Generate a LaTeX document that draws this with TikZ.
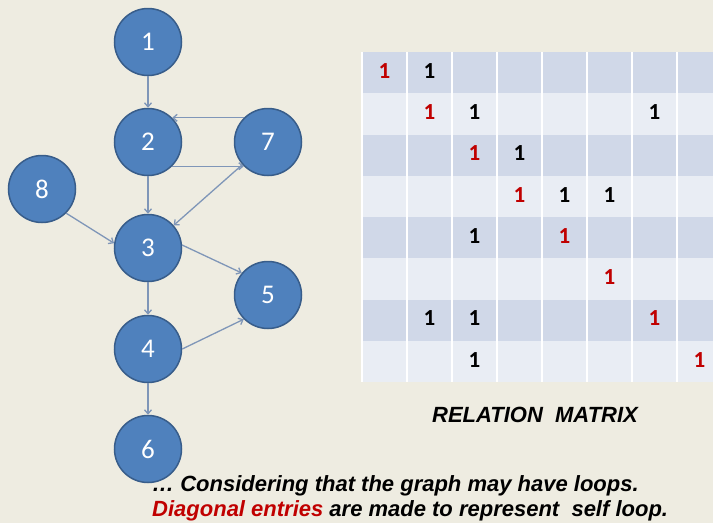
\documentclass[tikz,border=0pt]{standalone}
\usepackage{xcolor}
\usepackage{fontspec}
\usepackage{tikz}
\usetikzlibrary{arrows.meta, positioning, calc}
\newfontfamily\calibrifont{Carlito}
\newfontfamily\arialfont{Liberation Sans}
\definecolor{bgtan}{HTML}{EEECE1}
\definecolor{nodeblue}{HTML}{4F81BD}
\definecolor{nodeline}{HTML}{385D8A}
\definecolor{linkc}{HTML}{7F96B8}
\definecolor{rowdark}{HTML}{D0D8E8}
\definecolor{rowlight}{HTML}{E9EDF4}
\definecolor{diagred}{HTML}{C00000}
\tikzset{
  vertex/.style={circle, draw=nodeline, line width=1.5pt, fill=nodeblue,
                 minimum size=67pt, inner sep=0pt, text=white,
                 font=\calibrifont\fontsize{27}{27}\selectfont},
  link/.style={-{Straight Barb[length=4pt, width=7pt]}, draw=linkc, line width=1.3pt},
  one/.style={inner sep=0pt, font=\calibrifont\bfseries\fontsize{23}{23}\selectfont},
  diag/.style={one, text=diagred},
  caption/.style={inner sep=0pt, font=\arialfont\bfseries\itshape\fontsize{#1}{#1}\selectfont},
  caption/.default=22,
}

\begin{document}
\begin{tikzpicture}[x=1pt, y=-1pt]

% ── 背景 ──────────────────────────────────────────────────────────────
\useasboundingbox (0,0) rectangle (713,523);
\fill[bgtan] (0,0) rectangle (713,523);

% ── 左侧：有向图 ──────────────────────────────────────────────────────
\node[vertex] (n1) at (148,42)  {1};
\node[vertex] (n2) at (148,142) {2};
\node[vertex] (n7) at (268,142) {7};
\node[vertex] (n8) at (42,189)  {8};
\node[vertex] (n3) at (148,248) {3};
\node[vertex] (n5) at (268,295) {5};
\node[vertex] (n4) at (148,349) {4};
\node[vertex] (n6) at (148,449) {6};

\draw[link] (n1) -- (n2);
\draw[link] (n7.135) -- (n2.45);
\draw[link] (n2.-45) -- (n7.-135);
\draw[link] (n2) -- (n3);
\draw[link] (n7) -- (n3);
\draw[link] (n8.-45) -- (n3.172);
\draw[link] (n3.5) -- (n5.140);
\draw[link] (n3) -- (n4);
\draw[link] (n4.east) -- (n5.-135);
\draw[link] (n4) -- (n6);

% ── 右侧：关系矩阵 ────────────────────────────────────────────────────
\fill[rowlight] (362,52) rectangle (713,382);
\fill[rowdark] (362,52)     rectangle (713,93.25);
\fill[rowdark] (362,134.5)  rectangle (713,175.75);
\fill[rowdark] (362,217)    rectangle (713,258.25);
\fill[rowdark] (362,299.5)  rectangle (713,340.75);
\begin{scope}[shift={(362,52)}]
  \draw[white, line width=1.5pt] (0,0) grid[xstep=45, ystep=41.25] (351,330);
\end{scope}

\node[diag] (a11) at (384.5,71)  {1};
\node[one]  (a12) at (429.5,71)  {1};
\node[diag] (a22) at (429.5,112.5) {1};
\node[one]  (a23) at (474.5,112.5) {1};
\node[one]  (a27) at (654.5,112.5) {1};
\node[diag] (a33) at (474.5,153.5) {1};
\node[one]  (a34) at (519.5,153.5) {1};
\node[diag] (a44) at (519.5,195) {1};
\node[one]  (a45) at (564.5,195) {1};
\node[one]  (a46) at (609.5,195) {1};
\node[one]  (a53) at (474.5,236) {1};
\node[diag] (a55) at (564.5,236) {1};
\node[diag] (a66) at (609.5,277.5) {1};
\node[one]  (a72) at (429.5,318.5) {1};
\node[one]  (a73) at (474.5,318.5) {1};
\node[diag] (a77) at (654.5,318.5) {1};
\node[one]  (a83) at (474.5,360) {1};
\node[diag] (a88) at (699.5,360) {1};

% ── 文字说明 ──────────────────────────────────────────────────────────
\node[caption, anchor=base] (mtitle) at (535,422) {RELATION\ \ MATRIX};
\node[caption, anchor=base west] (note1) at (152,491)
  {… Considering that the graph may have loops.};
\node[caption, anchor=base west] (note2) at (152,516)
  {\textcolor{diagred}{Diagonal entries} are made to represent\ \ self loop.};

\end{tikzpicture}
\end{document}
